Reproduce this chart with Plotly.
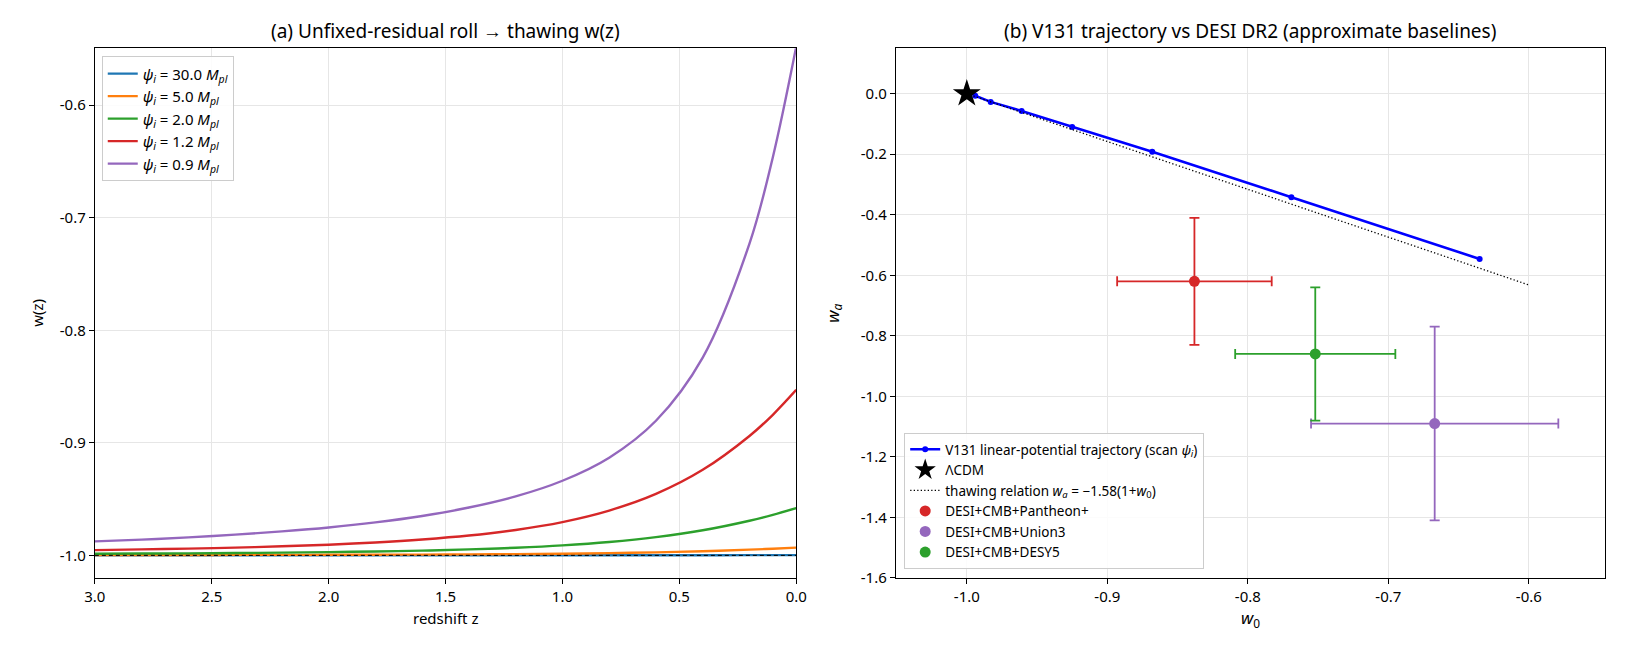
import plotly.graph_objects as go

# ---------------- data: panel (a) ----------------
z = [3.0, 2.8, 2.6, 2.4, 2.2, 2.0, 1.8, 1.6, 1.4, 1.2, 1.0, 0.8, 0.6, 0.4, 0.2, 0.1, 0.0]
w_psi30 = [-1.0000, -1.0000, -1.0000, -1.0000, -1.0000, -0.9999, -0.9999, -0.9999, -0.9999, -0.9999,
           -0.9999, -0.9999, -0.9999, -0.9999, -0.9998, -0.9998, -0.9998]
w_psi5 = [-0.9997, -0.9997, -0.9997, -0.9996, -0.9996, -0.9995, -0.9994, -0.9993, -0.9991, -0.9989,
          -0.9985, -0.9980, -0.9973, -0.9963, -0.9949, -0.9941, -0.9931]
w_psi2 = [-0.9986, -0.9984, -0.9982, -0.9979, -0.9976, -0.9971, -0.9965, -0.9958, -0.9947, -0.9932,
          -0.9911, -0.9881, -0.9838, -0.9777, -0.9692, -0.9640, -0.9580]
w_psi12 = [-0.9953, -0.9947, -0.9940, -0.9931, -0.9919, -0.9905, -0.9885, -0.9859, -0.9824, -0.9774,
           -0.9704, -0.9602, -0.9454, -0.9240, -0.8939, -0.8751, -0.8530]
w_psi09 = [-0.9876, -0.9860, -0.9840, -0.9816, -0.9787, -0.9752, -0.9707, -0.9650, -0.9575, -0.9476,
           -0.9337, -0.9132, -0.8804, -0.8243, -0.7230, -0.6462, -0.5480]
lcdm_z = [3.0, 0.0]
lcdm_w = [-1.0, -1.0]

series_names = ["<i>\u03c8<sub>i</sub></i> = 30.0 <i>M<sub>pl</sub></i>",
                "<i>\u03c8<sub>i</sub></i> = 5.0 <i>M<sub>pl</sub></i>",
                "<i>\u03c8<sub>i</sub></i> = 2.0 <i>M<sub>pl</sub></i>",
                "<i>\u03c8<sub>i</sub></i> = 1.2 <i>M<sub>pl</sub></i>",
                "<i>\u03c8<sub>i</sub></i> = 0.9 <i>M<sub>pl</sub></i>"]
series_vals = [w_psi30, w_psi5, w_psi2, w_psi12, w_psi09]
series_colors = ["#1f77b4", "#ff7f0e", "#2ca02c", "#d62728", "#9467bd"]

a_xticks = [3.0, 2.5, 2.0, 1.5, 1.0, 0.5, 0.0]
a_xticktext = ["3.0", "2.5", "2.0", "1.5", "1.0", "0.5", "0.0"]
a_yticks = [-1.0, -0.9, -0.8, -0.7, -0.6]
a_yticktext = ["-1.0", "-0.9", "-0.8", "-0.7", "-0.6"]

# ---------------- data: panel (b) ----------------
traj_w0 = [-0.994, -0.983, -0.961, -0.925, -0.868, -0.769, -0.635]
traj_wa = [-0.007, -0.027, -0.057, -0.110, -0.192, -0.342, -0.546]
lcdm_w0 = [-1.0]
lcdm_wa = [0.0]
thaw_w0 = [-1.0, -0.6]
thaw_wa = [0.0, -0.632]

desi_names = ["DESI+CMB+Pantheon+", "DESI+CMB+Union3", "DESI+CMB+DESY5"]
desi_w0 = [-0.838, -0.667, -0.752]
desi_w0_err = [0.055, 0.088, 0.057]
desi_wa = [-0.62, -1.09, -0.86]
desi_wa_err = [0.21, 0.32, 0.22]
desi_colors = ["#d62728", "#9467bd", "#2ca02c"]

b_xticks = [-1.0, -0.9, -0.8, -0.7, -0.6]
b_xticktext = ["-1.0", "-0.9", "-0.8", "-0.7", "-0.6"]
b_yticks = [0.0, -0.2, -0.4, -0.6, -0.8, -1.0, -1.2, -1.4, -1.6]
b_yticktext = ["0.0", "-0.2", "-0.4", "-0.6", "-0.8", "-1.0", "-1.2", "-1.4", "-1.6"]

FONT = "Noto Sans"
GRID = "#e6e6e6"

XA = [85 / 1625, 796 / 1625]
XB = [897 / 1625, 1616 / 1625]
YD = [1 - 586 / 650, 1 - 49 / 650]

fig = go.Figure()

for name, vals, col in zip(series_names, series_vals, series_colors):
    fig.add_trace(go.Scatter(x=z, y=vals, mode="lines", name=name,
                             line=dict(color=col, width=2.4, shape="spline", smoothing=1.0),
                             xaxis="x", yaxis="y", legend="legend"))
fig.add_trace(go.Scatter(x=lcdm_z, y=lcdm_w, mode="lines", showlegend=False,
                         line=dict(color="black", width=1, dash="4px,3px"),
                         xaxis="x", yaxis="y"))

# panel b
fig.add_trace(go.Scatter(x=traj_w0, y=traj_wa, mode="lines+markers",
                         name="V131 linear-potential trajectory (scan <i>\u03c8<sub>i</sub></i>)",
                         line=dict(color="#0000ff", width=2.6),
                         marker=dict(color="#0000ff", size=6),
                         xaxis="x2", yaxis="y2", legend="legend2"))
fig.add_trace(go.Scatter(x=lcdm_w0, y=lcdm_wa, mode="markers", name="\u039bCDM",
                         marker=dict(symbol="star", size=21, color="black"),
                         xaxis="x2", yaxis="y2", legend="legend2"))
fig.add_trace(go.Scatter(x=thaw_w0, y=thaw_wa, mode="lines",
                         name="thawing relation <i>w<sub>a</sub></i> = \u22121.58(1+<i>w</i><sub>0</sub>)",
                         line=dict(color="black", width=1.3, dash="1.3px,2.2px"),
                         xaxis="x2", yaxis="y2", legend="legend2"))
for name, x0, ex, y0, ey, col in zip(desi_names, desi_w0, desi_w0_err, desi_wa, desi_wa_err, desi_colors):
    fig.add_trace(go.Scatter(x=[x0], y=[y0], mode="markers", name=name,
                             marker=dict(color=col, size=11),
                             error_x=dict(type="data", array=[ex], color=col, thickness=1.8, width=5),
                             error_y=dict(type="data", array=[ey], color=col, thickness=1.8, width=5),
                             xaxis="x2", yaxis="y2", legend="legend2"))

axis_common = dict(showline=True, linecolor="black", linewidth=1.2, mirror=True,
                   ticks="outside", ticklen=5, tickwidth=1, tickcolor="black",
                   showgrid=True, gridcolor=GRID, gridwidth=1, zeroline=False,
                   tickfont=dict(family=FONT, size=15, color="black"))

fig.update_layout(
    width=1625, height=650,
    margin=dict(l=0, r=0, t=0, b=0),
    paper_bgcolor="white", plot_bgcolor="white",
    font=dict(family=FONT, size=14, color="black"),
    xaxis=dict(domain=XA, range=[3.0, 0.0], tickmode="array",
               tickvals=a_xticks, ticktext=a_xticktext, anchor="y", **axis_common),
    yaxis=dict(domain=YD, range=[-1.02, -0.5495], tickmode="array",
               tickvals=a_yticks, ticktext=a_yticktext, anchor="x", **axis_common),
    xaxis2=dict(domain=XB, range=[-1.0505, -0.5457], tickmode="array",
                tickvals=b_xticks, ticktext=b_xticktext, anchor="y2", **axis_common),
    yaxis2=dict(domain=YD, range=[-1.6, 0.15], tickmode="array",
                tickvals=b_yticks, ticktext=b_yticktext, anchor="x2", **axis_common),
    legend=dict(x=92 / 1625, y=0.912, xanchor="left", yanchor="top",
                bgcolor="rgba(255,255,255,0.85)", bordercolor="#cccccc", borderwidth=1,
                font=dict(family=FONT, size=15), itemwidth=30, tracegroupgap=0),
    legend2=dict(x=0.5572, y=0.3245, xanchor="left", yanchor="top",
                 bgcolor="rgba(255,255,255,0.85)", bordercolor="#cccccc", borderwidth=1,
                 font=dict(family=FONT, size=13.5), itemwidth=30, tracegroupgap=0),
    annotations=[
        dict(text="(a) Unfixed-residual roll \u2192 thawing w(z)", x=(XA[0] + XA[1]) / 2, y=1 - 31 / 650,
             xref="paper", yref="paper", showarrow=False, xanchor="center", yanchor="middle",
             font=dict(family=FONT, size=19)),
        dict(text="(b) V131 trajectory vs DESI DR2 (approximate baselines)", x=(XB[0] + XB[1]) / 2, y=1 - 31 / 650,
             xref="paper", yref="paper", showarrow=False, xanchor="center", yanchor="middle",
             font=dict(family=FONT, size=19)),
        dict(text="redshift z", x=(XA[0] + XA[1]) / 2, y=1 - 627 / 650, xref="paper", yref="paper",
             showarrow=False, xanchor="center", yanchor="middle", font=dict(family=FONT, size=15)),
        dict(text="<i>w</i><sub>0</sub>", x=(XB[0] + XB[1]) / 2, y=1 - 627 / 650, xref="paper", yref="paper",
             showarrow=False, xanchor="center", yanchor="middle", font=dict(family=FONT, size=17)),
        dict(text="w(z)", x=26 / 1625, y=(YD[0] + YD[1]) / 2, xref="paper", yref="paper", textangle=-90,
             showarrow=False, xanchor="center", yanchor="middle", font=dict(family=FONT, size=15)),
        dict(text="<i>w<sub>a</sub></i>", x=833 / 1625, y=(YD[0] + YD[1]) / 2, xref="paper", yref="paper",
             textangle=-90, showarrow=False, xanchor="center", yanchor="middle",
             font=dict(family=FONT, size=17)),
    ],
)

fig.write_html("out.html")
